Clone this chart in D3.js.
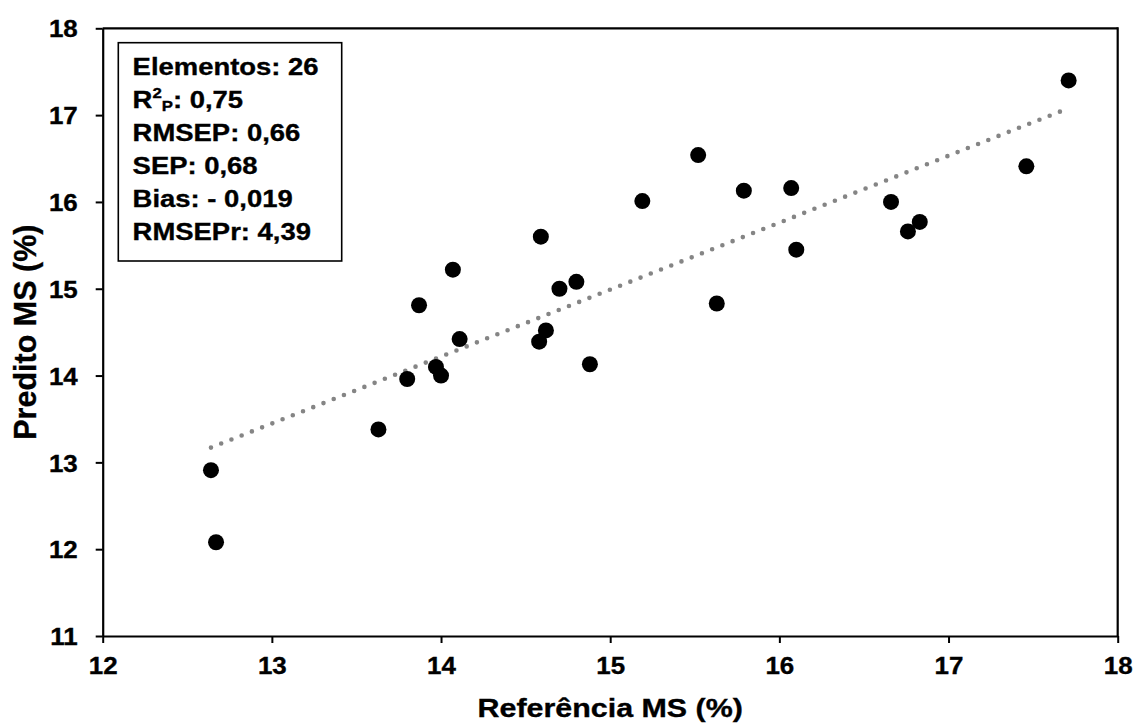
<!DOCTYPE html>
<html>
<head>
<meta charset="utf-8">
<script src="https://cdn.jsdelivr.net/npm/d3@7"></script>
<style>
  html, body { margin: 0; padding: 0; background: #fff; }
  svg { display: block; }
  text { font-family: "Liberation Sans", Arial, sans-serif; font-weight: bold; fill: #000; stroke: #000; stroke-width: 0.35px; }
</style>
</head>
<body>
<svg id="chart" width="1135" height="724"></svg>
<script>
// Reference vs predicted dry matter (MS, %) for the validation set
const referencia = [12.64, 12.67, 13.63, 13.80, 13.87, 13.97, 14.00, 14.07, 14.11, 14.58,
                    14.62, 14.59, 14.70, 14.80, 14.88, 15.19, 15.52, 15.63, 15.79, 16.07,
                    16.10, 16.66, 16.76, 16.83, 17.46, 17.71];
const predito    = [12.91, 12.08, 13.38, 13.96, 14.81, 14.10, 14.00, 15.22, 14.42, 14.39,
                    14.52, 15.60, 15.00, 15.08, 14.13, 16.01, 16.54, 14.83, 16.13, 16.16,
                    15.45, 16.00, 15.66, 15.77, 16.41, 17.40];

// Linear trend line end points
const trendX = [12.64, 17.71];
const trendY = [13.17, 17.08];

// Axis ticks
const xTicks = [12, 13, 14, 15, 16, 17, 18];
const yTicks = [11, 12, 13, 14, 15, 16, 17, 18];

// Statistics panel
const stats = [
  { label: "Elementos", value: "26" },
  { label: "R", sup: "2", sub: "P", value: "0,75" },
  { label: "RMSEP", value: "0,66" },
  { label: "SEP", value: "0,68" },
  { label: "Bias", value: "- 0,019" },
  { label: "RMSEPr", value: "4,39" }
];

const W = 1135, H = 724;
const margin = { left: 102.7, right: 17.3, top: 28.3, bottom: 88 };
const svg = d3.select("#chart");

const x = d3.scaleLinear().domain([12, 18]).range([margin.left, W - margin.right]);
const y = d3.scaleLinear().domain([11, 18]).range([H - margin.bottom, margin.top]);

const tickFont = 24, tickScale = 1.08;
const FONT = "'Liberation Sans', Arial, sans-serif";

function styleTickText(sel) {
  sel.style("font-family", FONT)
     .style("font-weight", "700")
     .style("font-size", tickFont + "px")
     .style("fill", "#000")
     .attr("transform", `scale(${tickScale},1)`);
}

// Bottom axis
const gx = svg.append("g")
  .attr("transform", `translate(0,${y(11)})`)
  .call(d3.axisBottom(x).tickValues(xTicks).tickFormat(d3.format("d")).tickSize(7).tickSizeOuter(0).tickPadding(14));
gx.attr("font-family", null).attr("font-size", null);
gx.select(".domain").attr("stroke", "#000").attr("stroke-width", 2.2);
gx.selectAll(".tick line").attr("stroke", "#000").attr("stroke-width", 2);
gx.selectAll(".tick text").call(styleTickText);

// Left axis
const gy = svg.append("g")
  .attr("transform", `translate(${x(12)},0)`)
  .call(d3.axisLeft(y).tickValues(yTicks).tickFormat(d3.format("d")).tickSize(7).tickSizeOuter(0).tickPadding(18));
gy.attr("font-family", null).attr("font-size", null);
gy.select(".domain").attr("stroke", "#000").attr("stroke-width", 2.2);
gy.selectAll(".tick line").attr("stroke", "#000").attr("stroke-width", 2);
gy.selectAll(".tick text").call(styleTickText)
  .attr("x", -25 / tickScale)
  .attr("dy", "0.36em");

// Top and right frame
svg.append("line")
  .attr("x1", x(12)).attr("x2", x(18)).attr("y1", y(18)).attr("y2", y(18))
  .attr("stroke", "#000").attr("stroke-width", 2.2);
svg.append("line")
  .attr("x1", x(18)).attr("x2", x(18)).attr("y1", y(18) - 1.1).attr("y2", y(11) + 1.1)
  .attr("stroke", "#000").attr("stroke-width", 2.2);

// Dotted trend line
svg.append("path")
  .datum(trendX.map((d, i) => [d, trendY[i]]))
  .attr("d", d3.line().x(d => x(d[0])).y(d => y(d[1])))
  .attr("fill", "none")
  .attr("stroke", "#858585")
  .attr("stroke-width", 4.6)
  .attr("stroke-linecap", "round")
  .attr("stroke-dasharray", "0 11");

// Data points
svg.append("g")
  .selectAll("circle")
  .data(referencia.map((d, i) => [d, predito[i]]))
  .join("circle")
  .attr("cx", d => x(d[0]))
  .attr("cy", d => y(d[1]))
  .attr("r", 8)
  .attr("fill", "#000");

// Statistics panel
const box = { x: 118.3, y: 42.7, w: 223.4, h: 218.3 };
svg.append("rect")
  .attr("x", box.x).attr("y", box.y).attr("width", box.w).attr("height", box.h)
  .attr("fill", "#fff").attr("stroke", "#000").attr("stroke-width", 1.6);

const statFont = 24.5, statScale = 1.12, lineGap = 33.1, firstBase = 75;
const statText = svg.append("g")
  .attr("transform", `translate(132.6,0) scale(${statScale},1)`);
stats.forEach((s, i) => {
  const t = statText.append("text")
    .attr("x", 0)
    .attr("y", firstBase + i * lineGap)
    .style("font-size", statFont + "px");
  t.append("tspan").text(s.label);
  if (s.sup) {
    t.append("tspan").style("font-size", "15px").attr("dy", -10).text(s.sup);
    t.append("tspan").style("font-size", "15px").attr("dy", 13.3).text(s.sub);
    t.append("tspan").attr("dy", -3.3).text(": " + s.value);
  } else {
    t.append("tspan").text(": " + s.value);
  }
});

// Axis titles
svg.append("text")
  .attr("transform", `translate(${(x(12) + x(18)) / 2},717) scale(1.17,1)`)
  .attr("text-anchor", "middle")
  .style("font-size", "26px")
  .text("Referência MS (%)");

svg.append("text")
  .attr("transform", `translate(36,${(y(11) + y(18)) / 2}) rotate(-90)`)
  .attr("text-anchor", "middle")
  .style("font-size", "30.5px")
  .text("Predito MS (%)");
</script>
</body>
</html>
